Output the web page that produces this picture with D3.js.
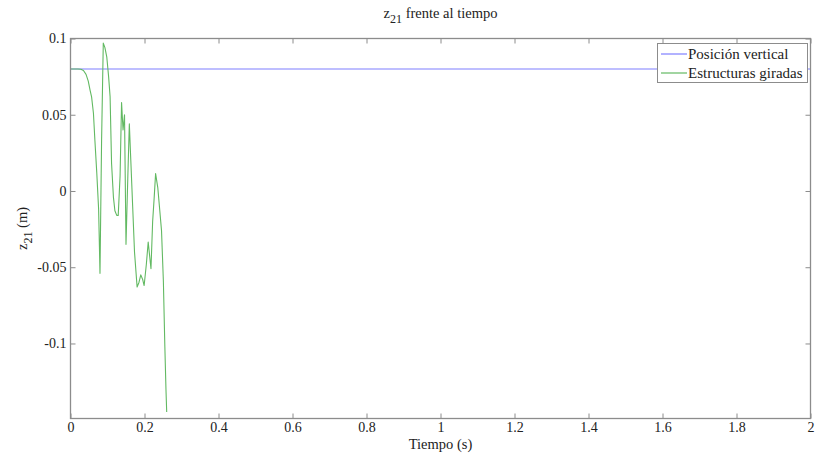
<!DOCTYPE html>
<html>
<head>
<meta charset="utf-8">
<script src="https://cdn.jsdelivr.net/npm/d3@7"></script>
<style>
  html, body { margin: 0; padding: 0; background: #fff; }
  svg { display: block; font-family: "Liberation Serif", "Times New Roman", serif; }
</style>
</head>
<body>
<svg id="chart" width="816" height="459"></svg>
<script>
// Time axis (s) and vertical displacement z21 (m)
const verticalTime = [0, 2];
const verticalZ = [0.08, 0.08];

const girTime = [0, 0.010, 0.020, 0.028, 0.035, 0.042, 0.048, 0.053, 0.057, 0.062, 0.066, 0.071, 0.076, 0.0797,
  0.084, 0.0886, 0.093, 0.098, 0.103, 0.107, 0.111, 0.116, 0.120, 0.125, 0.129, 0.134, 0.138, 0.142, 0.146,
  0.150, 0.155, 0.159, 0.163, 0.168, 0.173, 0.180, 0.185, 0.190, 0.195, 0.199, 0.205, 0.210, 0.2175,
  0.222, 0.226, 0.230, 0.236, 0.241, 0.246, 0.251, 0.255, 0.258, 0.260];
const girZ = [0.08, 0.08, 0.08, 0.0798, 0.079, 0.0765, 0.072, 0.066, 0.0617, 0.051, 0.033, 0.012, -0.012, -0.054,
  0.033, 0.097, 0.094, 0.088, 0.075, 0.062, 0.018, -0.004, -0.013, -0.016, -0.016, 0.010, 0.058, 0.040, 0.050,
  -0.035, 0.010, 0.044, 0.020, -0.010, -0.040, -0.063, -0.060, -0.055, -0.058, -0.062, -0.048, -0.0335, -0.051,
  -0.020, -0.005, 0.0114, 0.002, -0.012, -0.026, -0.059, -0.102, -0.130, -0.145];

const xTicks = [0, 0.2, 0.4, 0.6, 0.8, 1, 1.2, 1.4, 1.6, 1.8, 2];
const yTicks = [-0.1, -0.05, 0, 0.05, 0.1];
const seriesNames = ["Posición vertical", "Estructuras giradas"];
const seriesColors = ["#7f7fff", "#62b962"];

const svg = d3.select("#chart");
const mLeft = 70.5, mRight = 810.5, mTop = 38.5, mBottom = 418.5;

const x = d3.scaleLinear().domain([0, 2]).range([mLeft, mRight]);
const y = d3.scaleLinear().domain([-0.1492, 0.1]).range([mBottom, mTop]);

const axisColor = "#8c8c8c";
const textColor = "#222";
const tickFont = 14;
const labelFont = 14.5;
const legendFont = 15;
const serif = "Liberation Serif";

// Data lines
const line = d3.line().x(d => x(d[0])).y(d => y(d[1]));
svg.append("path")
  .datum(d3.zip(verticalTime, verticalZ))
  .attr("d", line).attr("fill", "none")
  .attr("stroke", seriesColors[0]).attr("stroke-width", 1.2);
svg.append("path")
  .datum(d3.zip(girTime, girZ))
  .attr("d", line).attr("fill", "none")
  .attr("stroke", seriesColors[1]).attr("stroke-width", 1.1)
  .attr("stroke-linejoin", "round");

// Axes with inward ticks on all four sides (plain hyphen for negatives)
const tl = 5;
const fmt = d => String(+d.toFixed(3));
const styleAxis = g => {
  g.attr("font-family", serif).attr("font-size", tickFont);
  g.select(".domain").remove();
  g.selectAll("line").attr("stroke", axisColor);
  g.selectAll("text").attr("fill", textColor);
};

svg.append("g").attr("transform", `translate(0,${mBottom})`)
  .call(d3.axisBottom(x).tickValues(xTicks).tickSizeInner(-tl).tickSizeOuter(0).tickPadding(4).tickFormat(fmt))
  .call(styleAxis);
svg.append("g").attr("transform", `translate(0,${mTop})`)
  .call(d3.axisTop(x).tickValues(xTicks).tickSizeInner(-tl).tickSizeOuter(0).tickFormat(""))
  .call(styleAxis);
svg.append("g").attr("transform", `translate(${mLeft},0)`)
  .call(d3.axisLeft(y).tickValues(yTicks).tickSizeInner(-tl).tickSizeOuter(0).tickPadding(4).tickFormat(fmt))
  .call(styleAxis);
svg.append("g").attr("transform", `translate(${mRight},0)`)
  .call(d3.axisRight(y).tickValues(yTicks).tickSizeInner(-tl).tickSizeOuter(0).tickFormat(""))
  .call(styleAxis);

// Axes box
svg.append("rect")
  .attr("x", mLeft).attr("y", mTop).attr("width", mRight - mLeft).attr("height", mBottom - mTop)
  .attr("fill", "none").attr("stroke", axisColor).attr("stroke-width", 1.3);

// Title
const title = svg.append("text")
  .attr("x", (mLeft + mRight) / 2).attr("y", 18)
  .attr("text-anchor", "middle").attr("fill", textColor).attr("font-size", labelFont);
title.append("tspan").text("z");
title.append("tspan").attr("dy", 5).attr("font-size", 12).text("21");
title.append("tspan").attr("dy", -5).text(" frente al tiempo");

// Axis labels
svg.append("text")
  .attr("x", (mLeft + mRight) / 2).attr("y", 449)
  .attr("text-anchor", "middle").attr("fill", textColor).attr("font-size", labelFont)
  .text("Tiempo (s)");

const yl = svg.append("text")
  .attr("transform", `translate(27,${(mTop + mBottom) / 2}) rotate(-90)`)
  .attr("text-anchor", "middle").attr("fill", textColor).attr("font-size", labelFont);
yl.append("tspan").text("z");
yl.append("tspan").attr("dy", 5).attr("font-size", 12).text("21");
yl.append("tspan").attr("dy", -5).text(" (m)");

// Legend
const lg = svg.append("g");
lg.append("rect")
  .attr("x", 657.5).attr("y", 43.5).attr("width", 150).attr("height", 39)
  .attr("fill", "#fff").attr("stroke", axisColor).attr("stroke-width", 1);
seriesNames.forEach((name, i) => {
  const cy = 54 + i * 19;
  lg.append("line").attr("x1", 661).attr("x2", 687).attr("y1", cy).attr("y2", cy)
    .attr("stroke", seriesColors[i]).attr("stroke-width", 1.2);
  lg.append("text").attr("x", 688).attr("y", cy + 5)
    .attr("fill", textColor).attr("font-size", legendFont).text(name);
});
</script>
</body>
</html>
